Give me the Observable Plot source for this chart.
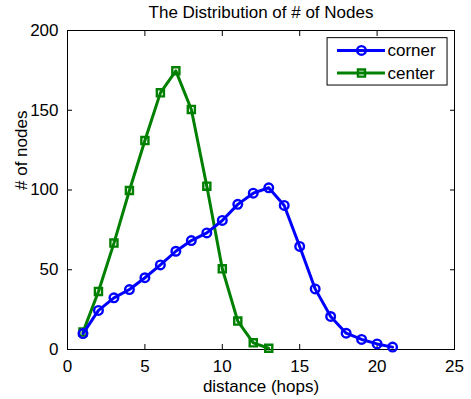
<!DOCTYPE html>
<html>
<head>
<meta charset="utf-8">
<script src="https://cdn.jsdelivr.net/npm/d3@7"></script>
<script src="https://cdn.jsdelivr.net/npm/@observablehq/plot@0.6"></script>
<style>
  body { margin: 0; background: #fff; }
  svg { font-family: "Liberation Sans", Arial, sans-serif; }
</style>
</head>
<body>
<div id="chart"></div>
<script>
const cornerX = [1,2,3,4,5,6,7,8,9,10,11,12,13,14,15,16,17,18,19,20,21];
const cornerY = [10,24.5,32.4,37.6,45,53,61.6,68.3,73.1,80.9,91,98,101.4,90.3,64.6,38,20.7,10.2,6.3,3.5,1.5];
const centerX = [1,2,3,4,5,6,7,8,9,10,11,12,13];
const centerY = [10.9,36.4,66.7,99.7,131,160.9,174.7,150.5,102.4,50.6,17.8,4.2,0.8];
const xTicks = [0,5,10,15,20,25];
const yTicks = [0,50,100,150,200];
const seriesNames = ["corner", "center"];
const colors = ["#0000ff", "#008000"];
const title = "The Distribution of # of Nodes";
const xLabel = "distance (hops)";
const yLabel = "# of nodes";

const corner = cornerX.map((x, i) => ({x, y: cornerY[i]}));
const center = centerX.map((x, i) => ({x, y: centerY[i]}));

// legend placement (data coordinates)
const legBox = {x1: 16.8, x2: 24.55, y1: 165.5, y2: 195.2};
const legRows = [187.5, 173.3];
const legLine = [17.44, 20.54];
const legMark = 18.99;
const legText = 20.67;

const fs = 17;
const plot = Plot.plot({
  width: 471,
  height: 399,
  marginLeft: 67,
  marginRight: 17,
  marginTop: 30,
  marginBottom: 50,
  style: {fontSize: fs + "px", fontFamily: '"Liberation Sans", Arial, sans-serif', background: "#fff", color: "#000"},
  x: {domain: [0, 25], ticks: xTicks},
  y: {domain: [0, 200], ticks: yTicks},
  marks: [
    Plot.frame({stroke: "#000", strokeWidth: 1}),
    Plot.axisX(xTicks, {anchor: "bottom", tickSize: 0, tickPadding: 10, fontSize: fs, label: null}),
    Plot.axisX(xTicks, {anchor: "bottom", tickSize: -5, text: null, label: null}),
    Plot.axisX(xTicks, {anchor: "top", tickSize: -5, text: null, label: null}),
    Plot.axisY(yTicks, {anchor: "left", tickSize: 0, tickPadding: 9, fontSize: fs, label: null}),
    Plot.axisY(yTicks, {anchor: "left", tickSize: -5, text: null, label: null}),
    Plot.axisY(yTicks, {anchor: "right", tickSize: -5, text: null, label: null}),
    Plot.line(center, {x: "x", y: "y", stroke: colors[1], strokeWidth: 3}),
    Plot.dot(center, {x: "x", y: "y", symbol: "square", r: 4, stroke: colors[1], strokeWidth: 2.4, fill: "none"}),
    Plot.line(corner, {x: "x", y: "y", stroke: colors[0], strokeWidth: 3}),
    Plot.dot(corner, {x: "x", y: "y", symbol: "circle", r: 4.3, stroke: colors[0], strokeWidth: 2.4, fill: "none"}),
    // legend
    Plot.rect([legBox], {x1: "x1", x2: "x2", y1: "y1", y2: "y2", fill: "#fff", stroke: "#000", strokeWidth: 1}),
    Plot.ruleY([0, 1], {y: i => legRows[i], x1: legLine[0], x2: legLine[1], stroke: i => colors[i], strokeWidth: 3}),
    Plot.dot([0], {x: legMark, y: legRows[0], symbol: "circle", r: 4.3, stroke: colors[0], strokeWidth: 2.4, fill: "none"}),
    Plot.dot([1], {x: legMark, y: legRows[1], symbol: "square", r: 4, stroke: colors[1], strokeWidth: 2.4, fill: "none"}),
    Plot.text([0, 1], {x: legText, y: i => legRows[i], text: i => seriesNames[i], textAnchor: "start", fontSize: fs, fill: "#000"}),
    // titles
    Plot.text([title], {frameAnchor: "top", dy: -13, lineAnchor: "bottom", fontSize: fs, fill: "#000"}),
    Plot.text([xLabel], {frameAnchor: "bottom", dy: 37, lineAnchor: "middle", fontSize: fs, fill: "#000"}),
    Plot.text([yLabel], {frameAnchor: "left", dx: -46, rotate: -90, lineAnchor: "middle", fontSize: fs, fill: "#000"})
  ]
});
document.getElementById("chart").appendChild(plot);
</script>
</body>
</html>
